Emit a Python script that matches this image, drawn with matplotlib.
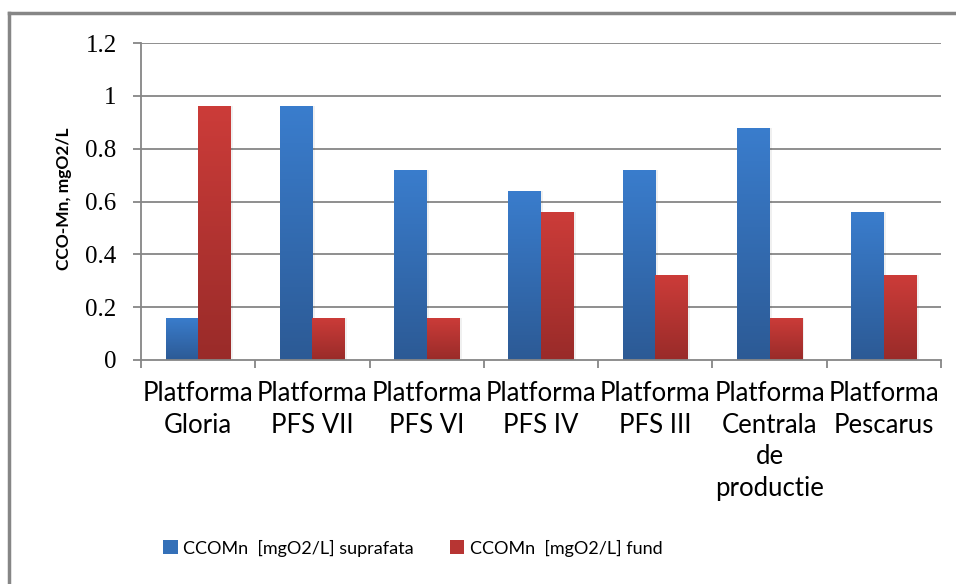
import numpy as np
import matplotlib
matplotlib.use("Agg")
import matplotlib.pyplot as plt
from matplotlib.colors import LinearSegmentedColormap
from matplotlib.patches import Patch
from matplotlib.lines import Line2D

categories = ["Platforma\nGloria", "Platforma\nPFS VII", "Platforma\nPFS VI",
              "Platforma\nPFS IV", "Platforma\nPFS III",
              "Platforma\nCentrala\nde\nproductie", "Platforma\nPescarus"]
suprafata = [0.16, 0.96, 0.72, 0.64, 0.72, 0.88, 0.56]
fund = [0.96, 0.16, 0.16, 0.56, 0.32, 0.16, 0.32]
series_names = ["CCOMn  [mgO2/L] suprafata", "CCOMn  [mgO2/L] fund"]
y_ticks = [0, 0.2, 0.4, 0.6, 0.8, 1.0, 1.2]
y_tick_labels = ["0", "0.2", "0.4", "0.6", "0.8", "1", "1.2"]
y_label = "CCO-Mn, mgO2/L"

sans = ["Lato", "DejaVu Sans"]

fig = plt.figure(figsize=(9.56, 5.84), dpi=100)
ax = fig.add_axes([141/956, 1-360/584, 800/956, 317/584])

blue_cmap = LinearSegmentedColormap.from_list("b", ["#2C5A95", "#3A7DCD"])
red_cmap = LinearSegmentedColormap.from_list("r", ["#992B29", "#CC3C39"])

x = np.arange(len(categories))
w = 0.285
b1 = ax.bar(x - w/2, suprafata, w, facecolor="none", edgecolor="none", zorder=3)
b2 = ax.bar(x + w/2, fund, w, facecolor="none", edgecolor="none", zorder=3)

grad = np.linspace(0, 1, 256).reshape(-1, 1)
for bars, cmap in ((b1, blue_cmap), (b2, red_cmap)):
    for r in bars:
        x0, y0 = r.get_x(), r.get_y()
        ww, hh = r.get_width(), r.get_height()
        ax.add_patch(plt.Rectangle((x0 + 0.02, y0), ww, hh, facecolor="#000000",
                                   alpha=0.06, edgecolor="none", zorder=2))
        im = ax.imshow(grad, cmap=cmap, origin="lower", aspect="auto",
                       extent=(x0, x0 + ww, y0, y0 + hh), zorder=3)
        im.set_clip_path(r)

ax.set_xlim(-0.5, len(categories) - 0.5)
ax.set_ylim(0, 1.2)
ax.set_aspect("auto")

for v in y_ticks[1:]:
    ax.axhline(v, color="#868686", lw=1.3, zorder=1)
ax.axhline(0, color="#868686", lw=1.3, zorder=4, clip_on=False)

for s in ("top", "right", "bottom"):
    ax.spines[s].set_visible(False)
ax.spines["left"].set_color("#868686")
ax.spines["left"].set_linewidth(1.3)

ax.set_yticks(y_ticks)
ax.set_yticklabels(y_tick_labels, family="Liberation Serif", fontsize=18)
ax.tick_params(axis="y", direction="out", length=6, width=1.3, color="#868686", pad=11.5)

ax.set_xticks(np.arange(len(categories) + 1) - 0.5)
ax.set_xticklabels([])
ax.tick_params(axis="x", direction="out", length=6, width=1.3, color="#868686")
for i, c in enumerate(categories):
    ax.text(i, -0.08, c, ha="center", va="top", fontsize=18.5, family=sans,
            linespacing=1.33, transform=ax.transData)

ax.set_ylabel(y_label, fontsize=12.5, fontweight="bold", family=sans)
ax.yaxis.set_label_coords((72 - 141) / 800, (360 - 199) / 317)

fig.add_artist(Line2D([9/956, 1.0], [1-13/584, 1-13/584], color="#868686", lw=2.5))
fig.add_artist(Line2D([9/956, 9/956], [0, 1-13/584], color="#868686", lw=2.5))

handles = [Patch(facecolor="#3470B8"), Patch(facecolor="#B73533")]
fig.legend(handles, series_names, loc="center left", bbox_to_anchor=(147/956, 1-548/584),
           ncol=2, frameon=False, prop={"family": sans, "size": 13},
           handlelength=0.8, handleheight=0.8, handletextpad=0.3, columnspacing=2.0)

fig.savefig("out.png", dpi=100)
